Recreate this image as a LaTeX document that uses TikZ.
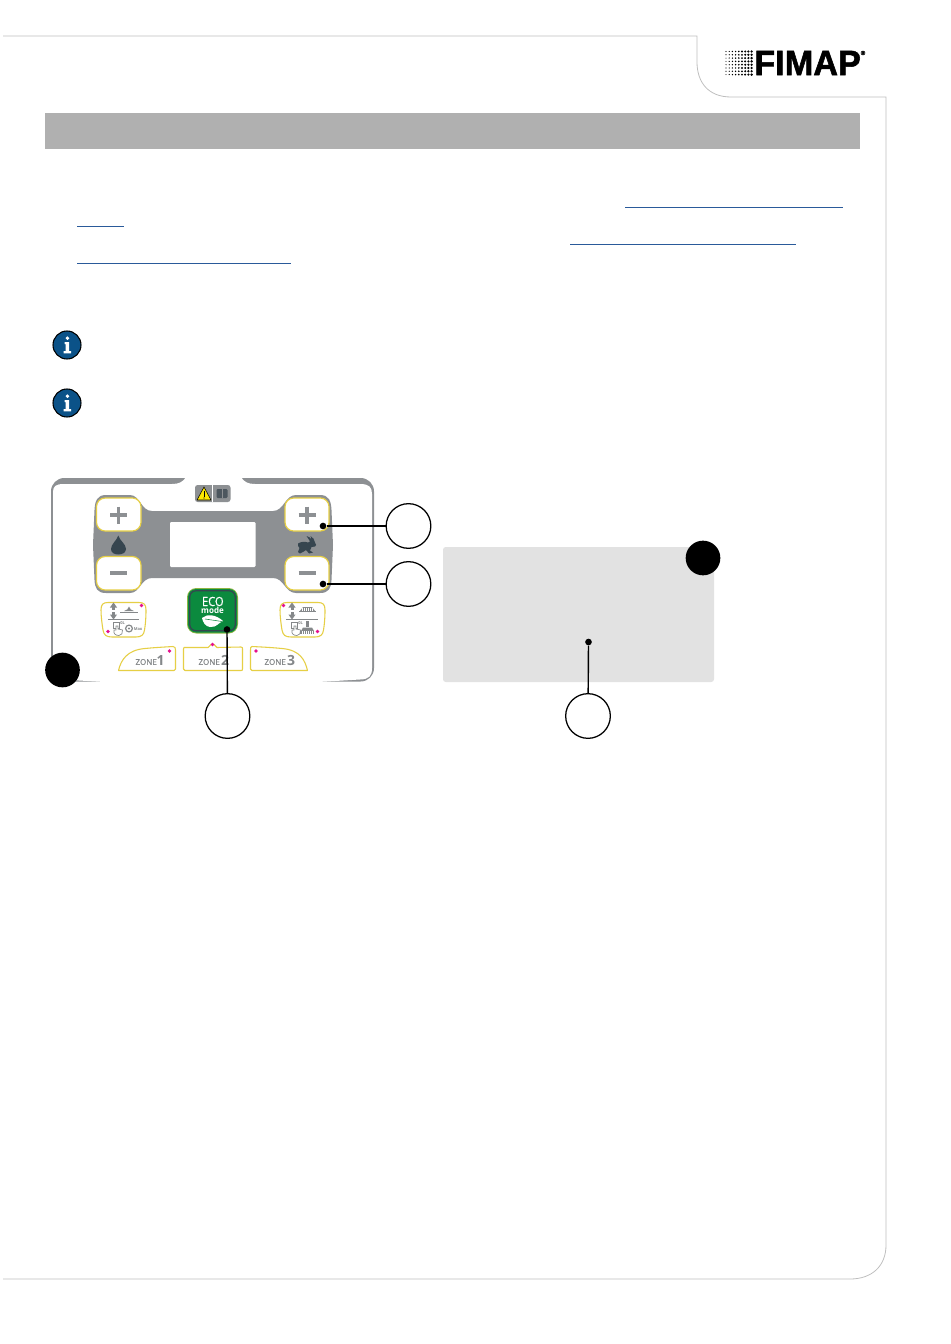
\documentclass[tikz,border=0pt]{standalone}
\usepackage{fontspec}
\setmainfont{Open Sans}
\newfontfamily\logofont[FakeBold=1.6]{Liberation Sans Bold}
\newfontfamily\zonefont[FakeBold=.7]{Open Sans}
\definecolor{framec}{HTML}{BEBEBE}
\definecolor{barc}{HTML}{B0B0B0}
\definecolor{linkc}{HTML}{2A5A9A}
\definecolor{infoc}{HTML}{0B5288}
\definecolor{panelc}{HTML}{8D9093}
\definecolor{yelc}{HTML}{E6CF45}
\definecolor{darkc}{HTML}{36454F}
\definecolor{greenc}{HTML}{0B8A3E}
\definecolor{magc}{HTML}{E6108C}
\definecolor{boxc}{HTML}{E2E2E2}
\definecolor{zonec}{HTML}{85888A}
\tikzset{
  linkline/.style={draw=linkc,line width=.75pt},
  keybtn/.style={draw=yelc,line width=.9pt,fill=white,rounded corners=6.5pt},
  softbtn/.style={draw=yelc,line width=.8pt,fill=white},
  glyphbar/.style={draw=panelc,line width=2.6pt},
  callout/.style={circle,draw=black,line width=.95pt,fill=white,minimum size=33.5pt,inner sep=0pt},
  blackdot/.style={circle,fill=black,minimum size=26pt,inner sep=0pt},
  pindot/.style={circle,fill=black,minimum size=5pt,inner sep=0pt},
  lead/.style={draw=black,line width=1.05pt},
  reddot/.style={circle,fill=magc,minimum size=2.8pt,inner sep=0pt},
  infodot/.style={circle,draw=black,line width=.8pt,fill=infoc,minimum size=21pt,inner sep=0pt},
  zonetxt/.style={text=zonec,inner sep=0pt,font=\zonefont\fontsize{6}{6}\selectfont},
  zonenum/.style={text=zonec,inner sep=0pt,font=\bfseries\fontsize{10.5}{10}\selectfont},
  tinyicon/.style={draw=zonec,line width=.5pt},
}
\newcommand{\updown}[2]{%
  \fill[zonec] (#1-3.6,#2-3.5) -- (#1,#2-8.5) -- (#1+3.6,#2-3.5) -- cycle;
  \fill[zonec] (#1-3.6,#2+3.5) -- (#1,#2+8.5) -- (#1+3.6,#2+3.5) -- cycle;
  \fill[zonec] (#1-1.5,#2-4) rectangle (#1+1.5,#2-.7);
  \fill[zonec] (#1-1.5,#2+.7) rectangle (#1+1.5,#2+4);}
\newcommand{\handicon}[2]{%
  \draw[tinyicon] (#1,#2) rectangle (#1+6,#2+6);
  \draw[tinyicon,fill=white] (#1+3,#2+4) -- (#1+3,#2+8) -- (#1+1,#2+8) .. controls (#1,#2+12) and (#1+3,#2+13.5) .. (#1+6,#2+13.5)
    .. controls (#1+9,#2+13.5) and (#1+9.5,#2+11) .. (#1+9.5,#2+8) -- (#1+5,#2+7) -- (#1+5,#2+4) -- cycle;
  \node[inner sep=0pt,text=zonec,font=\bfseries\fontsize{3}{3}\selectfont,anchor=west] at (#1+7,#2+1.5) {0L};}
\begin{document}
\begin{tikzpicture}[x=.75pt,y=-.75pt]
\useasboundingbox (0,0) rectangle (950,1344);
% page frame
\draw[framec,line width=.6pt] (3,36) -- (697,36) -- (697,62)
  .. controls (697,82) and (708,97) .. (731,97) -- (886,97) -- (886,1245)
  .. controls (886,1266) and (872,1279) .. (850,1279) -- (3,1279);
% logo
\foreach \c in {0,...,8}{\foreach \r in {0,...,7}{
  \pgfmathsetmacro{\dd}{.42+\c*.07}
  \fill[black] (726+\c*3.2,51.5+\r*3.3) circle[radius=\dd pt];}}
\node[inner sep=0pt,anchor=west,font=\logofont\fontsize{26.5}{26}\selectfont,xscale=.97] (logo) at (754,63) {FIMAP};
\node[inner sep=0pt,font=\logofont\fontsize{4.5}{4}\selectfont] (reg) at (863,53) {®};
% header bar
\fill[barc] (45,113) rectangle (860,149);
% link underlines
\draw[linkline] (625,208) -- (843,208);
\draw[linkline] (77,227) -- (124,227);
\draw[linkline] (570,245) -- (796,245);
\draw[linkline] (77,264) -- (291,264);
% info icons
\foreach \n/\y in {ia/345,ib/403}{
  \node[infodot] (\n) at (67,\y) {};
  \fill[white] (64.5,\y-3) -- (69.2,\y-3) -- (69.2,\y+6) -- (71,\y+6) -- (71,\y+8.3) -- (63.6,\y+8.3) -- (63.6,\y+6) -- (65.6,\y+6) -- (65.6,\y-.8) -- (64.5,\y-.8) -- cycle;
  \fill[white] (67.4,\y-6.8) circle[radius=1.9];
}
% control panel housing
\fill[panelc,rounded corners=10pt] (51,478) rectangle (374,681.5);
\fill[white] (53,492) .. controls (53,486) and (56,484) .. (64,484) -- (172,484)
  .. controls (179,484) and (183,482) .. (186,477) -- (241,477)
  .. controls (244,482) and (248,484) .. (255,484) -- (360,484)
  .. controls (369,484) and (372,487) .. (372,494) -- (372,668)
  .. controls (372,676) and (369,679.3) .. (360,679.5) -- (310,682.5) -- (113,682.5) -- (62,679.5)
  .. controls (56,679.3) and (53,676) .. (53,668) -- cycle;
% warning badge
\fill[panelc,rounded corners=2pt] (195,485) rectangle (230.5,502);
\fill[white] (212.4,485) rectangle (213,502);
\draw[black,line width=.4pt,fill=yellow!90!orange,line join=round] (204,487) -- (211,500) -- (197,500) -- cycle;
\fill[black] (203.6,491) rectangle (204.4,496.5);
\fill[black] (204,498) circle[radius=.6];
\fill[darkc!70!gray,rounded corners=.8pt] (216.5,489) rectangle (227.5,498);
\fill[panelc] (221.7,489) rectangle (222.3,498);
% gray display body
\fill[panelc] (106,495) -- (130,495) .. controls (140,495) and (141,511) .. (152,511) -- (273,511)
  .. controls (284,511) and (285,495) .. (296,495) -- (320,495)
  .. controls (329,495) and (331,501) .. (331.5,510) -- (333,545) -- (331.5,580)
  .. controls (331,588) and (329,593) .. (320,593) -- (296,593)
  .. controls (285,593) and (284,578) .. (273,578) -- (152,578)
  .. controls (141,578) and (140,593) .. (130,593) -- (106,593)
  .. controls (97,593) and (95,588) .. (94.5,580) -- (93,545) -- (94.5,510)
  .. controls (95,501) and (97,495) .. (106,495) -- cycle;
\fill[white,rounded corners=.8pt] (170,522) rectangle (255.5,567);
% key buttons
\draw[keybtn] (96.5,498) rectangle (141,531);
\draw[keybtn] (96.5,556.5) rectangle (141,590);
\draw[keybtn] (285,498) rectangle (329,531);
\draw[keybtn] (285,556.5) rectangle (329,590);
\draw[glyphbar] (110,515) -- (127,515) (118.5,506.5) -- (118.5,523.5);
\draw[glyphbar] (110,573) -- (127,573);
\draw[glyphbar] (298.5,515) -- (315.5,515) (307,506.5) -- (307,523.5);
\draw[glyphbar] (298.5,573) -- (315.5,573);
% drop icon
\fill[darkc] (118.3,535.5) .. controls (120,541) and (126,544) .. (126,549) .. controls (126,552.5) and (122.5,554.5) .. (118.3,554.5)
  .. controls (114,554.5) and (111,552.5) .. (111,549) .. controls (111,544) and (116.5,541) .. (118.3,535.5) -- cycle;
% rabbit icon
\fill[darkc] (298,543.5) .. controls (301,541.5) and (305,541.5) .. (308,542.5) -- (310,541.5)
  .. controls (309,539.5) and (307.5,537.5) .. (306.5,536) .. controls (309,536.5) and (310.5,538) .. (311.5,539.5)
  .. controls (311.5,538) and (311,537) .. (310.5,536) .. controls (313,537) and (314.5,540) .. (315,542.5)
  .. controls (316.5,544) and (316.5,546) .. (315,546.5) -- (311.5,547) .. controls (311,549) and (310,550) .. (310,550.5) -- (313,552.5) -- (309,553.5) -- (306,550)
  .. controls (304,551) and (303,552.5) .. (300,553.5) -- (298,552) .. controls (299,550.5) and (299.5,549.5) .. (299.5,548)
  .. controls (298.3,547) and (297.5,545) .. (298,543.5) -- cycle;
% eco button
\fill[yelc!60!greenc,rounded corners=7pt] (187,588) rectangle (238,633.5);
\fill[greenc,rounded corners=6pt] (188,589) rectangle (237,632.5);
\draw[darkc,line width=.9pt,rounded corners=4.5pt] (189.8,590.8) rectangle (235.2,630.7);
\node[inner sep=0pt,text=white,font=\zonefont\fontsize{9.5}{9}\selectfont,xscale=.88] (ecoa) at (212.8,601.5) {ECO};
\node[inner sep=0pt,text=white,font=\bfseries\fontsize{6.3}{6}\selectfont,xscale=.95] (ecob) at (212.5,610.5) {mode};
\fill[white] (202,618) .. controls (207,613.5) and (216,614.5) .. (223,621)
  .. controls (218,623) and (217,627.5) .. (210,627) .. controls (205,626.5) and (203,622) .. (202,618) -- cycle;
\draw[greenc,line width=.4pt] (205,619) -- (222,621.5);
% small left button
\draw[softbtn] (108,602.5) -- (139,602.5) .. controls (144,602.5) and (146,604.5) .. (146,610)
  .. controls (146,618) and (145.5,624) .. (144.5,630) .. controls (144,635) and (141,637) .. (136,637) -- (112,637)
  .. controls (106,637) and (104,635) .. (103,630) .. controls (102,624) and (101,616) .. (101,610) .. controls (101,604.5) and (103,602.5) .. (108,602.5) -- cycle;
\draw[tinyicon,line width=.7pt] (108,619.5) -- (139,619.5);
\updown{113.5}{611}
\fill[zonec] (120,611.5) rectangle (138,612.3);
\fill[zonec] (124,611) .. controls (127,610.5) and (128,609) .. (129,606.5) .. controls (130,609) and (131,610.5) .. (134,611) -- cycle;
\handicon{113}{622}
\draw[tinyicon,line width=.9pt] (129,628.5) circle[radius=3.4];
\fill[zonec] (129,628.5) circle[radius=1.2];
\node[inner sep=0pt,text=zonec,font=\bfseries\fontsize{3}{3}\selectfont,anchor=west] (mx) at (133.5,629) {Max};
% small right button
\draw[softbtn] (287,602.5) -- (318,602.5) .. controls (323,602.5) and (325,604.5) .. (325,610)
  .. controls (325,618) and (324.5,624) .. (323.5,630) .. controls (323,635) and (320,637) .. (315,637) -- (291,637)
  .. controls (285,637) and (283,635) .. (282,630) .. controls (281,624) and (280,616) .. (280,610) .. controls (280,604.5) and (282,602.5) .. (287,602.5) -- cycle;
\draw[tinyicon,line width=.7pt] (286,619.5) -- (318,619.5);
\updown{292}{611}
\fill[zonec] (299,611.2) rectangle (316,612);
\fill[zonec] (300,611) -- (303,607) -- (312,607) -- (315,611) -- cycle;
\foreach \xx in {302,304,...,313}{\draw[white,line width=.3pt] (\xx,607.5) -- (\xx,611);}
\handicon{291}{622}
\fill[zonec] (305.5,620.5) rectangle (309,627);
\fill[zonec] (301,631) -- (303,627.5) -- (312,627.5) -- (314,631) -- cycle;
\fill[zonec] (300,631) rectangle (315,634);
\foreach \xx in {302,304,...,314}{\draw[white,line width=.3pt] (\xx,631) -- (\xx,634);}
% zone buttons
\draw[softbtn,line join=round] (118.5,670.5) .. controls (121,660) and (127,650) .. (145,648.5) .. controls (155,647.5) and (165,647) .. (173,646.5)
  .. controls (175,646.5) and (175.5,648) .. (175.5,650) -- (175.5,669) .. controls (175.5,670) and (175,670.5) .. (174,670.5) -- cycle;
\draw[softbtn,line join=round] (184,647.5) -- (208,647.5) -- (211,644.5) -- (214,644.5) -- (217,647.5) -- (241,647) .. controls (242.5,647) and (242.5,648) .. (242.5,649)
  -- (242.5,669) .. controls (242.5,670.5) and (242,670.5) .. (241,670.5) -- (185,670.5) .. controls (184,670.5) and (183.5,670) .. (183.5,669) -- (183.5,649) .. controls (183.5,648) and (183.5,647.5) .. (184,647.5) -- cycle;
\draw[softbtn,line join=round] (307.5,670.5) .. controls (305,660) and (300,650) .. (282,648.5) .. controls (272,647.5) and (262,647) .. (252,646.5)
  .. controls (250.5,646.5) and (250.5,648) .. (250.5,650) -- (250.5,669) .. controls (250.5,670) and (251,670.5) .. (252,670.5) -- cycle;
\node[zonetxt,anchor=east] (za) at (157,662) {ZONE};
\node[zonenum] (zb) at (160.5,660.5) {1};
\node[zonetxt,anchor=east] (zc) at (220,662) {ZONE};
\node[zonenum] (zd) at (225,660.5) {2};
\node[zonetxt,anchor=east] (ze) at (286,662) {ZONE};
\node[zonenum] (zf) at (291,660.5) {3};
% magenta dots
\foreach \n/\x/\y in {ra/141.5/605.5,rb/108/631.5,rc/283.5/605.5,rd/317.5/631.5,re/169.5/651,rf/212.5/644.5,rg/256/651}{
  \node[reddot] (\n) at (\x,\y) {};}
% gray box
\fill[boxc,rounded corners=2pt] (443,547) rectangle (714,682);
% black badges
\node[blackdot] (ba) at (62.5,670) {};
\node[blackdot] (bb) at (703,558) {};
% callouts
\node[pindot] (p1) at (323,526) {};
\node[pindot] (p2) at (323,584) {};
\node[pindot] (p3) at (227,629.5) {};
\node[pindot] (p4) at (588.5,642) {};
\node[callout] (c1) at (408.5,526) {};
\node[callout] (c2) at (408.5,584) {};
\node[callout] (c3) at (227.5,716) {};
\node[callout] (c4) at (588,716) {};
\draw[lead] (p1) -- (c1);
\draw[lead] (p2) -- (c2);
\draw[lead] (p3) -- (c3);
\draw[lead] (p4) -- (c4);
\end{tikzpicture}
\end{document}
